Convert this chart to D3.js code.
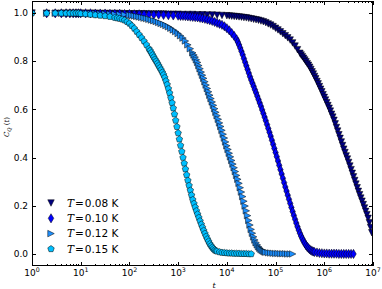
<!DOCTYPE html>
<html>
<head>
<meta charset="UTF-8">
<script src="https://cdnjs.cloudflare.com/ajax/libs/d3/7.8.5/d3.min.js"></script>
<style>
  body { margin: 0; background: #fff; }
  svg { display: block; font-family: "DejaVu Sans", sans-serif; }
</style>
</head>
<body>
<svg width="382" height="289"></svg>
<script>
// Data: [log10 t, C_Q(t)]

const early = [[0,1],[0.301,0.999],[0.477,0.999],[0.602,0.999],[0.699,0.999],[0.778,0.999],[0.845,0.999],[0.903,0.999],[0.954,0.999]];

const c008 = [[1.0,0.999],[1.1,0.999],[1.2,0.999],[1.3,0.999],[1.4,0.998],[1.5,0.998],[1.6,0.998],[1.7,0.998],[1.8,0.998],[1.9,0.997],[2.0,0.997],[2.1,0.997],[2.2,0.997],[2.3,0.997],[2.4,0.996],[2.5,0.996],[2.6,0.996],[2.7,0.996],[2.8,0.995],[2.9,0.995],[3.0,0.995],[3.1,0.994],[3.2,0.994],[3.3,0.994],[3.4,0.993],[3.5,0.993],[3.6,0.992],[3.7,0.992],[3.8,0.991],[3.9,0.990],[4.0,0.989],
  [4.05,0.988],[4.1,0.987],[4.15,0.986],[4.2,0.985],[4.25,0.984],[4.3,0.983],[4.35,0.981],[4.4,0.980],[4.45,0.978],[4.5,0.976],[4.55,0.974],[4.6,0.972],[4.65,0.970],[4.7,0.967],[4.75,0.964],[4.8,0.960],[4.85,0.955],[4.9,0.950],[4.95,0.944],[5.0,0.937],[5.05,0.930],[5.1,0.922],[5.15,0.914],[5.2,0.906],[5.25,0.897],[5.3,0.888],[5.35,0.876],[5.4,0.863],[5.45,0.848],
  [5.5,0.833],[5.525,0.826],[5.55,0.819],[5.575,0.812],[5.6,0.805],[5.625,0.798],[5.65,0.790],[5.675,0.783],[5.7,0.775],[5.725,0.766],[5.75,0.756],[5.775,0.747],[5.8,0.737],[5.825,0.727],[5.85,0.716],[5.875,0.706],[5.9,0.695],[5.925,0.684],[5.95,0.673],[5.975,0.661],[6.0,0.650],[6.025,0.639],[6.05,0.628],[6.075,0.616],[6.1,0.605],[6.125,0.593],[6.15,0.580],[6.175,0.568],[6.2,0.555],[6.225,0.540],[6.25,0.525],[6.275,0.510],[6.3,0.495],[6.325,0.480],[6.35,0.465],[6.375,0.450],[6.4,0.435],[6.425,0.421],[6.45,0.407],[6.475,0.394],[6.5,0.380],[6.525,0.365],[6.55,0.350],[6.575,0.335],[6.6,0.320],[6.625,0.305],[6.65,0.290],[6.675,0.275],[6.7,0.260],[6.725,0.246],[6.75,0.232],[6.775,0.219],[6.8,0.205],[6.825,0.191],[6.85,0.177],[6.875,0.163],[6.9,0.148],[6.925,0.130],[6.95,0.110],[6.975,0.088]];

const c010 = [[1.0,0.999],[1.1,0.999],[1.2,0.999],[1.3,0.998],[1.4,0.998],[1.5,0.998],[1.6,0.997],[1.7,0.997],[1.8,0.997],[1.9,0.996],[2.0,0.996],[2.1,0.995],[2.2,0.995],[2.3,0.994],[2.4,0.994],[2.5,0.993],[2.6,0.993],[2.7,0.992],[2.8,0.991],[2.9,0.990],[3.0,0.989],
  [3.05,0.988],[3.1,0.988],[3.15,0.987],[3.2,0.986],[3.25,0.985],[3.3,0.984],[3.35,0.983],[3.4,0.982],[3.45,0.980],[3.5,0.978],[3.55,0.976],[3.6,0.973],[3.65,0.970],[3.7,0.967],[3.75,0.963],[3.8,0.959],[3.85,0.955],[3.9,0.951],[3.95,0.945],[4.0,0.937],[4.05,0.928],[4.1,0.917],[4.15,0.905],
  [4.2,0.891],[4.225,0.880],[4.25,0.868],[4.275,0.855],[4.3,0.841],[4.325,0.827],[4.35,0.811],[4.375,0.796],[4.4,0.781],[4.425,0.766],[4.45,0.751],[4.475,0.736],[4.5,0.722],[4.525,0.709],[4.55,0.696],[4.575,0.682],[4.6,0.669],[4.625,0.655],[4.65,0.641],[4.675,0.627],[4.7,0.613],[4.725,0.598],[4.75,0.583],[4.775,0.568],[4.8,0.553],[4.825,0.537],[4.85,0.521],[4.875,0.505],[4.9,0.489],[4.925,0.472],[4.95,0.455],[4.975,0.438],[5.0,0.421],[5.025,0.404],[5.05,0.386],[5.075,0.368],[5.1,0.350],[5.125,0.332],[5.15,0.314],[5.175,0.296],[5.2,0.278],[5.225,0.261],[5.25,0.244],[5.275,0.227],[5.3,0.210],[5.325,0.193],[5.35,0.176],[5.375,0.160],[5.4,0.144],[5.425,0.128],[5.45,0.113],[5.475,0.099],[5.5,0.086],[5.525,0.074],[5.55,0.063],[5.575,0.053],[5.6,0.044],[5.625,0.036],[5.65,0.029],[5.675,0.024],[5.7,0.019],[5.725,0.015],[5.75,0.012],[5.775,0.010],[5.8,0.008],
  [5.85,0.006],[5.9,0.004],[5.95,0.003],[6.0,0.002],[6.05,0.002],[6.1,0.001],[6.15,0.001],[6.2,0.001],[6.25,0.001],[6.3,0],[6.35,0],[6.4,0],[6.45,0],[6.5,0],[6.55,0],[6.6,0]];

const c012 = [[1.0,0.999],[1.1,0.999],[1.2,0.998],[1.3,0.998],[1.4,0.997],[1.5,0.997],[1.6,0.996],[1.7,0.995],[1.8,0.994],[1.9,0.993],[2.0,0.992],
  [2.05,0.990],[2.1,0.988],[2.15,0.986],[2.2,0.984],[2.25,0.982],[2.3,0.979],[2.35,0.977],[2.4,0.974],[2.45,0.971],[2.5,0.968],[2.55,0.965],[2.6,0.961],[2.65,0.957],[2.7,0.953],[2.75,0.948],[2.8,0.943],[2.85,0.937],[2.9,0.930],[2.95,0.923],[3.0,0.915],[3.05,0.906],[3.1,0.896],[3.15,0.884],[3.2,0.868],[3.25,0.852],
  [3.3,0.835],[3.325,0.826],[3.35,0.817],[3.375,0.806],[3.4,0.795],[3.425,0.782],[3.45,0.769],[3.475,0.755],[3.5,0.742],[3.525,0.729],[3.55,0.715],[3.575,0.701],[3.6,0.687],[3.625,0.673],[3.65,0.659],[3.675,0.645],[3.7,0.631],[3.725,0.617],[3.75,0.603],[3.775,0.588],[3.8,0.574],[3.825,0.559],[3.85,0.544],[3.875,0.529],[3.9,0.513],[3.925,0.497],[3.95,0.481],[3.975,0.465],[4.0,0.449],[4.025,0.434],[4.05,0.418],[4.075,0.403],[4.1,0.388],[4.125,0.373],[4.15,0.358],[4.175,0.342],[4.2,0.326],[4.225,0.310],[4.25,0.293],[4.275,0.275],[4.3,0.257],[4.325,0.238],[4.35,0.219],[4.375,0.199],[4.4,0.179],[4.425,0.159],[4.45,0.139],[4.475,0.120],[4.5,0.102],[4.525,0.086],[4.55,0.071],[4.575,0.058],[4.6,0.047],[4.625,0.038],[4.65,0.030],[4.675,0.024],[4.7,0.019],[4.725,0.015],[4.75,0.012],[4.775,0.009],[4.8,0.007],
  [4.85,0.005],[4.9,0.004],[4.95,0.003],[5.0,0.002],[5.05,0.002],[5.1,0.001],[5.15,0.001],[5.2,0.001],[5.25,0],[5.3,0],[5.35,0]];

const c015 = [[1.0,0.997],[1.1,0.996],[1.2,0.994],[1.3,0.992],[1.4,0.990],[1.5,0.988],[1.6,0.985],[1.7,0.981],
  [1.75,0.979],[1.8,0.977],[1.85,0.974],[1.9,0.970],[1.95,0.964],[2.0,0.957],[2.05,0.947],[2.1,0.936],[2.15,0.923],[2.2,0.910],[2.25,0.897],[2.3,0.883],[2.35,0.868],
  [2.4,0.852],[2.425,0.844],[2.45,0.835],[2.475,0.826],[2.5,0.817],[2.525,0.808],[2.55,0.800],[2.575,0.791],[2.6,0.782],[2.625,0.773],[2.65,0.764],[2.675,0.754],[2.7,0.744],[2.725,0.732],[2.75,0.718],[2.775,0.703],[2.8,0.686],[2.825,0.668],[2.85,0.648],[2.875,0.627],[2.9,0.605],[2.925,0.580],[2.95,0.554],[2.975,0.528],[3.0,0.502],[3.025,0.476],[3.05,0.450],[3.075,0.425],[3.1,0.400],[3.125,0.376],[3.15,0.352],[3.175,0.328],[3.2,0.305],[3.225,0.284],[3.25,0.264],[3.275,0.244],[3.3,0.225],[3.325,0.209],[3.35,0.194],[3.375,0.179],[3.4,0.165],[3.425,0.151],[3.45,0.137],[3.475,0.123],[3.5,0.110],[3.525,0.097],[3.55,0.085],[3.575,0.073],[3.6,0.062],[3.625,0.052],[3.65,0.042],[3.675,0.034],[3.7,0.027],[3.725,0.021],[3.75,0.016],[3.775,0.013],[3.8,0.011],
  [3.85,0.008],[3.9,0.006],[3.95,0.005],[4.0,0.004],[4.05,0.003],[4.1,0.003],[4.15,0.002],[4.2,0.002],[4.25,0.002],[4.3,0.001],[4.35,0.001],[4.4,0.001],[4.45,0],[4.5,0]];

const temps = ["0.08", "0.10", "0.12", "0.15"];
const colors = ["#000080", "#0000ff", "#1e90ff", "#00bfff"];
const shapes = ["v", "d", ">", "p"];
const yTicks = [0.0, 0.2, 0.4, 0.6, 0.8, 1.0];
const xDecades = [0, 1, 2, 3, 4, 5, 6, 7];

const series = [c008, c010, c012, c015].map(s => early.concat(s));

// Layout

const W = 382, H = 289;
const mLeft = 32, mRight = 373, mTop = 1, mBottom = 266;

const x = d3.scaleLog().domain([1, 1e7]).range([mLeft, mRight]);
const y = d3.scaleLinear().domain([-0.05, 1.05]).range([mBottom, mTop]);

const svg = d3.select("svg");

svg.append("defs").append("clipPath").attr("id", "plot")
  .append("rect").attr("x", mLeft).attr("y", mTop).attr("width", mRight - mLeft).attr("height", mBottom - mTop);

// Marker shapes (matplotlib style)

function marker(shape, ms) {
  const h = ms / 2;
  if (shape === "v") return `M${-h},${-h}L${h},${-h}L0,${h}Z`;
  if (shape === ">") return `M${h},0L${-h},${-h}L${-h},${h}Z`;
  if (shape === "d") {
    const a = 0.707 * ms, b = 0.6 * 0.707 * ms;
    return `M0,${-a}L${b},0L0,${a}L${-b},0Z`;
  }
  const pts = d3.range(5).map(i => {
    const ang = -Math.PI / 2 + i * 2 * Math.PI / 5;
    return [h * 1.05 * Math.cos(ang), h * 1.05 * Math.sin(ang)];
  });
  return "M" + pts.map(p => p.join(",")).join("L") + "Z";
}

const MS = 6.5;

// Series

const gData = svg.append("g").attr("clip-path", "url(#plot)");
series.forEach((s, i) => {
  gData.append("g")
    .selectAll("path")
    .data(s)
    .join("path")
      .attr("transform", d => `translate(${x(Math.pow(10, d[0]))},${y(d[1])})`)
      .attr("d", marker(shapes[i], MS))
      .attr("fill", colors[i])
      .attr("stroke", "#000")
      .attr("stroke-width", 0.5);
});

// Axes: ticks inward on all four sides

const axes = svg.append("g").attr("stroke", "#000").attr("stroke-width", 1);

const minor = [];
xDecades.slice(0, -1).forEach(k => { for (let m = 2; m <= 9; m++) minor.push(m * Math.pow(10, k)); });

xDecades.forEach(k => {
  const px = Math.round(x(Math.pow(10, k))) + 0.5;
  axes.append("line").attr("x1", px).attr("x2", px).attr("y1", mBottom).attr("y2", mBottom - 4);
  axes.append("line").attr("x1", px).attr("x2", px).attr("y1", mTop).attr("y2", mTop + 4);
});
minor.forEach(v => {
  const px = Math.round(x(v)) + 0.5;
  axes.append("line").attr("x1", px).attr("x2", px).attr("y1", mBottom).attr("y2", mBottom - 2);
  axes.append("line").attr("x1", px).attr("x2", px).attr("y1", mTop).attr("y2", mTop + 2);
});
yTicks.forEach(v => {
  const py = Math.round(y(v)) + 0.5;
  axes.append("line").attr("x1", mLeft).attr("x2", mLeft + 4).attr("y1", py).attr("y2", py);
  axes.append("line").attr("x1", mRight).attr("x2", mRight - 4).attr("y1", py).attr("y2", py);
});

svg.append("rect")
  .attr("x", mLeft + 0.5).attr("y", mTop + 0.5)
  .attr("width", mRight - mLeft - 1).attr("height", mBottom - mTop - 1)
  .attr("fill", "none").attr("stroke", "#000").attr("stroke-width", 1);

// Tick labels

svg.append("g").selectAll("text")
  .data(yTicks)
  .join("text")
    .attr("x", mLeft - 4)
    .attr("y", d => y(d))
    .attr("dy", "0.35em")
    .attr("text-anchor", "end")
    .attr("font-size", 9)
    .text(d => d.toFixed(1));

const xl = svg.append("g").selectAll("text")
  .data(xDecades)
  .join("text")
    .attr("x", d => x(Math.pow(10, d)))
    .attr("y", 276)
    .attr("text-anchor", "middle")
    .attr("font-size", 9);
xl.append("tspan").text("10");
xl.append("tspan").attr("font-size", 6.3).attr("dy", -4).text(d => d);

// Axis labels

svg.append("text")
  .attr("x", 214).attr("y", 288)
  .attr("text-anchor", "middle")
  .attr("font-family", "DejaVu Serif")
  .attr("font-style", "italic")
  .attr("font-size", 8)
  .text("t");

const yl = svg.append("text")
  .attr("transform", "translate(9,127) rotate(-90)")
  .attr("text-anchor", "middle")
  .attr("font-family", "DejaVu Serif")
  .attr("font-size", 7);
yl.append("tspan").attr("font-style", "italic").text("C");
yl.append("tspan").attr("font-style", "italic").attr("font-size", 5).attr("dy", 1.5).text("Q");
yl.append("tspan").attr("dy", -1.5).text(" (");
yl.append("tspan").attr("font-style", "italic").text("t");
yl.append("tspan").text(")");

// Legend

const legend = svg.append("g");
temps.forEach((t, i) => {
  const ly = 203 + i * 15.3;
  legend.append("path")
    .attr("transform", `translate(51,${ly})`)
    .attr("d", marker(shapes[i], MS))
    .attr("fill", colors[i])
    .attr("stroke", "#000")
    .attr("stroke-width", 0.5);
  const tx = legend.append("text")
    .attr("x", 67).attr("y", ly)
    .attr("dy", "0.35em")
    .attr("font-size", 10.5);
  tx.append("tspan").attr("font-family", "DejaVu Serif").attr("font-style", "italic").text("T");
  tx.append("tspan").attr("font-family", "DejaVu Serif").attr("dx", 1).text("=");
  tx.append("tspan").attr("dx", 1).text(t + " K");
});
</script>
</body>
</html>
